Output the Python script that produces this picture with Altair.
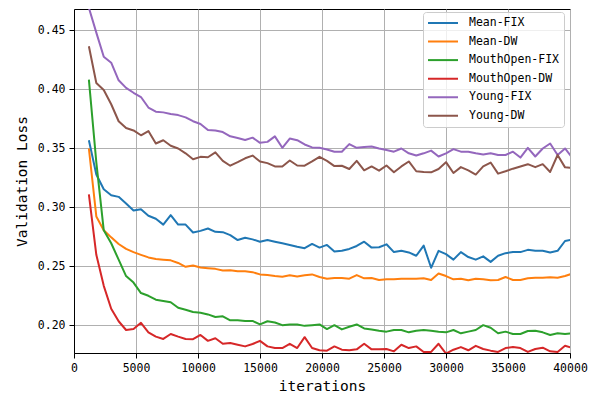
import altair as alt
import pandas as pd

# x positions (iterations) of the logged points
iterations = list(range(1200, 40201, 600))

mean_fix = [0.3568, 0.3277, 0.3152, 0.3102, 0.3088, 0.3032, 0.2972, 0.2983, 0.2928, 0.2903, 0.2853,
            0.2933, 0.2853, 0.2853, 0.2786, 0.2800, 0.2820, 0.2792, 0.2789, 0.2764, 0.2722, 0.2741,
            0.2728, 0.2708, 0.2722, 0.2708, 0.2695, 0.2681, 0.2666, 0.2653, 0.2689, 0.2658, 0.2681,
            0.2625, 0.2631, 0.2647, 0.2672, 0.2708, 0.2658, 0.2661, 0.2686, 0.2620, 0.2631, 0.2617,
            0.2589, 0.2675, 0.2487, 0.2631, 0.2603, 0.2556, 0.2620, 0.2578, 0.2556, 0.2584, 0.2537,
            0.2589, 0.2611, 0.2620, 0.2620, 0.2639, 0.2631, 0.2631, 0.2617, 0.2631, 0.2714, 0.2728]

mean_dw = [0.3498, 0.2922, 0.2805, 0.2745, 0.2689, 0.2647, 0.2620, 0.2597, 0.2575, 0.2561, 0.2556,
           0.2550, 0.2528, 0.2495, 0.2506, 0.2489, 0.2483, 0.2478, 0.2464, 0.2467, 0.2458, 0.2458,
           0.2450, 0.2431, 0.2425, 0.2417, 0.2412, 0.2423, 0.2414, 0.2423, 0.2431, 0.2409, 0.2395,
           0.2400, 0.2400, 0.2395, 0.2425, 0.2398, 0.2400, 0.2384, 0.2389, 0.2389, 0.2395, 0.2395,
           0.2395, 0.2398, 0.2384, 0.2439, 0.2417, 0.2389, 0.2395, 0.2381, 0.2395, 0.2389, 0.2381,
           0.2384, 0.2409, 0.2384, 0.2384, 0.2398, 0.2403, 0.2403, 0.2406, 0.2403, 0.2417, 0.2439]

mouth_fix = [0.4081, 0.3380, 0.2805, 0.2695, 0.2556, 0.2417, 0.2362, 0.2273, 0.2250, 0.2217, 0.2206,
             0.2195, 0.2148, 0.2131, 0.2112, 0.2106, 0.2092, 0.2070, 0.2076, 0.2042, 0.2042, 0.2037,
             0.2037, 0.2007, 0.2034, 0.2023, 0.2001, 0.2007, 0.2007, 0.1995, 0.2001, 0.2007, 0.1968,
             0.2001, 0.1965, 0.1987, 0.2007, 0.1973, 0.1965, 0.1954, 0.1946, 0.1960, 0.1960, 0.1940,
             0.1954, 0.1960, 0.1954, 0.1946, 0.1940, 0.1960, 0.1932, 0.1946, 0.1960, 0.2001, 0.1979,
             0.1932, 0.1946, 0.1926, 0.1926, 0.1951, 0.1954, 0.1940, 0.1918, 0.1932, 0.1926, 0.1932]

mouth_dw = [0.3110, 0.2597, 0.2334, 0.2140, 0.2034, 0.1960, 0.1968, 0.2021, 0.1940, 0.1904, 0.1884,
            0.1926, 0.1904, 0.1884, 0.1882, 0.1918, 0.1868, 0.1890, 0.1843, 0.1849, 0.1835, 0.1821,
            0.1841, 0.1868, 0.1821, 0.1807, 0.1807, 0.1843, 0.1807, 0.1899, 0.1807, 0.1788, 0.1785,
            0.1821, 0.1793, 0.1788, 0.1796, 0.1843, 0.1796, 0.1796, 0.1799, 0.1779, 0.1835, 0.1807,
            0.1821, 0.1774, 0.1774, 0.1843, 0.1760, 0.1793, 0.1815, 0.1788, 0.1826, 0.1799, 0.1785,
            0.1774, 0.1807, 0.1815, 0.1807, 0.1774, 0.1799, 0.1810, 0.1779, 0.1774, 0.1826, 0.1807]

young_fix = [0.4690, 0.4480, 0.4275, 0.4225, 0.4076, 0.4012, 0.3970, 0.3934, 0.3845, 0.3810, 0.3804,
             0.3790, 0.3781, 0.3762, 0.3729, 0.3706, 0.3654, 0.3651, 0.3637, 0.3601, 0.3587, 0.3570,
             0.3590, 0.3546, 0.3554, 0.3601, 0.3504, 0.3582, 0.3568, 0.3532, 0.3507, 0.3504, 0.3490,
             0.3471, 0.3471, 0.3535, 0.3504, 0.3510, 0.3515, 0.3498, 0.3485, 0.3471, 0.3498, 0.3457,
             0.3438, 0.3457, 0.3480, 0.3430, 0.3457, 0.3493, 0.3471, 0.3471, 0.3457, 0.3448, 0.3457,
             0.3443, 0.3443, 0.3471, 0.3421, 0.3504, 0.3430, 0.3498, 0.3540, 0.3443, 0.3498, 0.3417]

young_dw = [0.4364, 0.4053, 0.3993, 0.3873, 0.3729, 0.3671, 0.3651, 0.3610, 0.3646, 0.3540, 0.3568,
            0.3521, 0.3498, 0.3457, 0.3407, 0.3427, 0.3424, 0.3465, 0.3393, 0.3352, 0.3382, 0.3415,
            0.3438, 0.3388, 0.3374, 0.3346, 0.3346, 0.3396, 0.3354, 0.3352, 0.3388, 0.3427, 0.3393,
            0.3349, 0.3352, 0.3324, 0.3393, 0.3313, 0.3346, 0.3310, 0.3354, 0.3296, 0.3346, 0.3388,
            0.3305, 0.3299, 0.3296, 0.3324, 0.3382, 0.3290, 0.3340, 0.3313, 0.3277, 0.3346, 0.3379,
            0.3285, 0.3305, 0.3327, 0.3346, 0.3365, 0.3340, 0.3365, 0.3299, 0.3443, 0.3338, 0.3332]

series_names = ["Mean-FIX", "Mean-DW", "MouthOpen-FIX", "MouthOpen-DW", "Young-FIX", "Young-DW"]
series_values = [mean_fix, mean_dw, mouth_fix, mouth_dw, young_fix, young_dw]
colors = ["#1f77b4", "#ff7f0e", "#2ca02c", "#d62728", "#9467bd", "#8c564b"]

x_ticks = [0, 5000, 10000, 15000, 20000, 25000, 30000, 35000, 40000]
y_ticks = [0.20, 0.25, 0.30, 0.35, 0.40, 0.45]

rows = []
for si, (name, vals) in enumerate(zip(series_names, series_values)):
    for it, v in zip(iterations, vals):
        rows.append({"iterations": it, "loss": v, "series": name, "order": si})
df = pd.DataFrame(rows)

FONT = "DejaVu Sans Mono"

chart = alt.Chart(df).mark_line(strokeWidth=2, clip=True, strokeJoin="round").encode(
    x=alt.X("iterations:Q",
            scale=alt.Scale(domain=[0, 40000], nice=False, zero=False),
            axis=alt.Axis(values=x_ticks, format="d", title="iterations",
                          labelFlush=False, labelOverlap=False, titlePadding=6)),
    y=alt.Y("loss:Q",
            scale=alt.Scale(domain=[0.1765, 0.468], nice=False, zero=False),
            axis=alt.Axis(values=y_ticks, format=".2f", title="Validation Loss",
                          labelOverlap=False, titlePadding=8)),
    color=alt.Color("series:N",
                    scale=alt.Scale(domain=series_names, range=colors),
                    sort=series_names,
                    legend=alt.Legend(title=None, orient="none", legendX=349, legendY=3,
                                      symbolType="stroke", symbolSize=900, symbolStrokeWidth=2,
                                      labelFont=FONT, labelFontSize=11.5, labelColor="black",
                                      labelOffset=10, fillColor="rgba(255,255,255,0.8)",
                                      strokeColor="#cccccc", cornerRadius=3, padding=4,
                                      rowPadding=4.55, clipHeight=14)),
    detail="series:N",
).properties(
    width=496, height=344,
    autosize=alt.AutoSizeParams(type="none"),
    padding={"left": 66, "top": 1, "right": 22, "bottom": 41},
).configure_view(
    stroke="black", strokeWidth=1
).configure_axis(
    labelFont=FONT, labelFontSize=11.5, labelColor="black", labelPadding=4,
    tickColor="black", tickSize=5, tickWidth=1,
    domainColor="black", domainWidth=1,
    gridColor="#b0b0b0", gridWidth=1,
    titleFont=FONT, titleFontSize=14.5, titleFontWeight="normal", titleColor="black",
)

chart.save("out.html", embed_options={"renderer": "svg", "actions": False})
